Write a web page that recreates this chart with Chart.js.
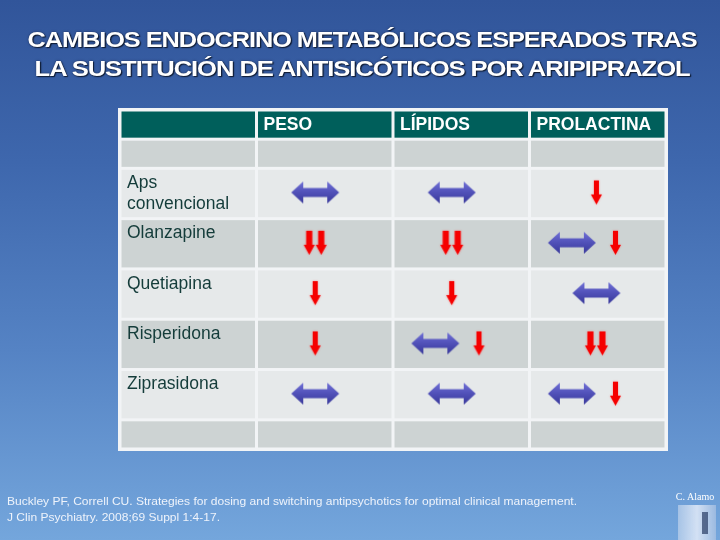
<!DOCTYPE html>
<html>
<head>
<meta charset="utf-8">
<script src="https://cdn.jsdelivr.net/npm/chart.js@4.4.1/dist/chart.umd.min.js"></script>
<style>
html, body { margin: 0; padding: 0; width: 720px; height: 540px; overflow: hidden; }
body {
  position: relative;
  font-family: "Liberation Sans", Arial, sans-serif;
  background: linear-gradient(180deg, #31559a 0%, #3e67ad 30%, #5583c4 65%, #74a6dc 100%);
}
#chart { position: absolute; left: 0; top: 0; }
.fit { position: absolute; white-space: nowrap; display: inline-block; }
.title { color: #fff; font-weight: bold; font-size: 21.5px; line-height: 24px; letter-spacing: -0.9px;
  text-shadow: 1px 1px 1px #101c33, 0 0 2px #1d2d52; transform-origin: center center; }
.ref { color: #eef3fb; font-size: 11.5px; line-height: 14px; transform-origin: left center; }
#logo { position: absolute; left: 672px; top: 491px; width: 46px; color: #fff;
  font-family: "Liberation Serif", "DejaVu Serif", serif; font-size: 10px; text-align: center; }
#tower { position: absolute; left: 678px; top: 505px; width: 38px; height: 35px;
  background: linear-gradient(90deg, rgba(210,222,240,0.55), rgba(235,240,250,0.8), rgba(190,205,230,0.55)); }
#tower2 { position: absolute; left: 702px; top: 512px; width: 6px; height: 22px; background: rgba(40,60,100,0.7); }
</style>
</head>
<body>
<canvas id="chart" width="720" height="540"></canvas>
<div class="fit title" id="t1" data-w="669" data-cx="362.5" style="top:28px">CAMBIOS ENDOCRINO METABÓLICOS ESPERADOS TRAS</div>
<div class="fit title" id="t2" data-w="655" data-cx="362.5" style="top:57px">LA SUSTITUCIÓN DE ANTISICÓTICOS POR ARIPIPRAZOL</div>
<div class="fit ref" data-w="570" data-x="7" style="top:494px">Buckley PF, Correll CU. Strategies for dosing and switching antipsychotics for optimal clinical management.</div>
<div class="fit ref" data-w="213" data-x="7" style="top:510px">J Clin Psychiatry. 2008;69 Suppl 1:4-17.</div>
<div id="tower"></div><div id="tower2"></div>
<div id="logo">C. Alamo</div>
<script>
// ---------- DATA ----------
const columns = ['PESO', 'LÍPIDOS', 'PROLACTINA'];
const drugs = [['Aps', 'convencional'], ['Olanzapine'], ['Quetiapina'], ['Risperidona'], ['Ziprasidona']];
// '=' sin cambios (doble flecha azul), 'v' descenso, 'vv' descenso marcado
const peso       = [['='], ['vv'], ['v'], ['v'], ['=']];
const lipidos    = [['='], ['vv'], ['v'], ['=', 'v'], ['=']];
const prolactina = [['v'], ['=', 'v'], ['='], ['vv'], ['=', 'v']];

// ---------- fit text widths ----------
document.querySelectorAll('.fit').forEach(el => {
  const w = el.getBoundingClientRect().width;
  const target = +el.dataset.w;
  const s = target / w;
  if (el.dataset.cx) {
    el.style.left = (+el.dataset.cx - w / 2) + 'px';
  } else {
    el.style.left = el.dataset.x + 'px';
  }
  el.style.transform = 'scaleX(' + s + ')';
});

// ---------- layout (rows: header, blank, drugs..., blank) ----------
const rowUnits = [0.58, 0.58, 1, 1, 1, 1, 1, 0.58];
const rowEdges = [0];
rowUnits.forEach(u => rowEdges.push(rowEdges[rowEdges.length - 1] + u));
const yMax = rowEdges[rowEdges.length - 1];
const rowCenter = r => (rowEdges[r] + rowEdges[r + 1]) / 2;
const rowFill = ['#005f5b', '#cdd3d3', '#e6e9ea', '#cdd3d3', '#e6e9ea', '#cdd3d3', '#e6e9ea', '#cdd3d3'];

// ---------- symbol images ----------
function makeBoth() {
  const w = 48, h = 22, c = document.createElement('canvas');
  c.width = w + 2; c.height = h + 2;
  const g = c.getContext('2d');
  g.translate(1, 1);
  const gr = g.createLinearGradient(0, 0, 0, h);
  gr.addColorStop(0, '#7070d6'); gr.addColorStop(0.45, '#5353bb'); gr.addColorStop(1, '#38389a');
  g.fillStyle = gr;
  g.beginPath();
  g.moveTo(0, h / 2); g.lineTo(12, 0); g.lineTo(12, 6.5); g.lineTo(36, 6.5); g.lineTo(36, 0);
  g.lineTo(48, h / 2); g.lineTo(36, h); g.lineTo(36, 15.5); g.lineTo(12, 15.5); g.lineTo(12, h);
  g.closePath(); g.fill();
  return c;
}
function downPath(g, x, sw, hw, h, hh) {
  const cx = x + hw / 2;
  g.moveTo(cx - sw / 2, 0); g.lineTo(cx + sw / 2, 0); g.lineTo(cx + sw / 2, h - hh);
  g.lineTo(x + hw, h - hh); g.lineTo(cx, h); g.lineTo(x, h - hh); g.lineTo(cx - sw / 2, h - hh);
  g.closePath();
}
function makeDown(n) {
  const hw = 11, gap = 1, h = 24, pad = 3;
  const w = n * hw + (n - 1) * gap;
  const c = document.createElement('canvas');
  c.width = w + pad * 2; c.height = h + pad * 2;
  const g = c.getContext('2d');
  g.translate(pad, pad);
  g.shadowColor = 'rgba(255,90,90,0.7)'; g.shadowBlur = 2;
  g.fillStyle = '#f50000';
  for (let i = 0; i < n; i++) {
    g.beginPath();
    downPath(g, i * (hw + gap), n === 2 ? 6 : 5, hw, h, 10);
    g.fill();
  }
  return c;
}
const symbolStyle = { '=': makeBoth(), 'v': makeDown(1), 'vv': makeDown(2) };

// ---------- build points from data ----------
const tableCols = [peso, lipidos, prolactina];
const pts = { '=': [], 'v': [], 'vv': [] };
tableCols.forEach((col, c) => col.forEach((cell, r) => {
  const xc = c + 1.5;
  const yc = rowCenter(r + 2) - 0.02;
  const offs = cell.length === 2 ? [-0.19, 0.13] : [c < 2 ? -0.07 : -0.01];
  cell.forEach((s, i) => pts[s].push({ x: xc + offs[i], y: yc }));
}));

const tablePlugin = {
  id: 'tablePlugin',
  beforeDatasetsDraw(chart) {
    const { ctx, scales: { x, y } } = chart;
    const L = x.getPixelForValue(0), R = x.getPixelForValue(4);
    const T = y.getPixelForValue(0), B = y.getPixelForValue(yMax);
    ctx.save();
    ctx.fillStyle = '#f2f4f6';
    ctx.fillRect(L - 2, T - 2, R - L + 4, B - T + 4);
    for (let r = 0; r < rowUnits.length; r++) {
      const y0 = y.getPixelForValue(rowEdges[r]), y1 = y.getPixelForValue(rowEdges[r + 1]);
      for (let c = 0; c < 4; c++) {
        const x0 = x.getPixelForValue(c), x1 = x.getPixelForValue(c + 1);
        ctx.fillStyle = rowFill[r];
        ctx.fillRect(x0 + 1.5, y0 + 1.5, x1 - x0 - 3, y1 - y0 - 3);
      }
    }
    // header labels
    ctx.fillStyle = '#ffffff';
    ctx.font = 'bold 17.5px "Liberation Sans", Arial, sans-serif';
    ctx.textBaseline = 'middle';
    ctx.textAlign = 'left';
    columns.forEach((name, c) => {
      ctx.fillText(name, x.getPixelForValue(c + 1) + 7, y.getPixelForValue(rowCenter(0)) + 1);
    });
    // row labels
    ctx.fillStyle = '#143c3a';
    ctx.font = '17.5px "Liberation Sans", Arial, sans-serif';
    ctx.textBaseline = 'middle';
    drugs.forEach((lines, r) => {
      const top = y.getPixelForValue(rowEdges[r + 2]);
      lines.forEach((ln, i) => ctx.fillText(ln, x.getPixelForValue(0) + 7, top + 15 + i * 21));
    });
    ctx.restore();
  }
};

new Chart(document.getElementById('chart'), {
  type: 'scatter',
  data: {
    datasets: [
      { label: 'sin cambios', data: pts['='], pointStyle: symbolStyle['='], pointRadius: 5 },
      { label: 'descenso', data: pts['v'], pointStyle: symbolStyle['v'], pointRadius: 5 },
      { label: 'descenso marcado', data: pts['vv'], pointStyle: symbolStyle['vv'], pointRadius: 5 }
    ]
  },
  options: {
    responsive: false,
    animation: false,
    events: [],
    layout: { padding: { left: 120, right: 54, top: 110, bottom: 91 } },
    scales: {
      x: { type: 'linear', min: 0, max: 4, display: false },
      y: { type: 'linear', min: 0, max: yMax, reverse: true, display: false }
    },
    plugins: { legend: { display: false }, title: { display: false }, tooltip: { enabled: false } }
  },
  plugins: [tablePlugin]
});
</script>
</body>
</html>
